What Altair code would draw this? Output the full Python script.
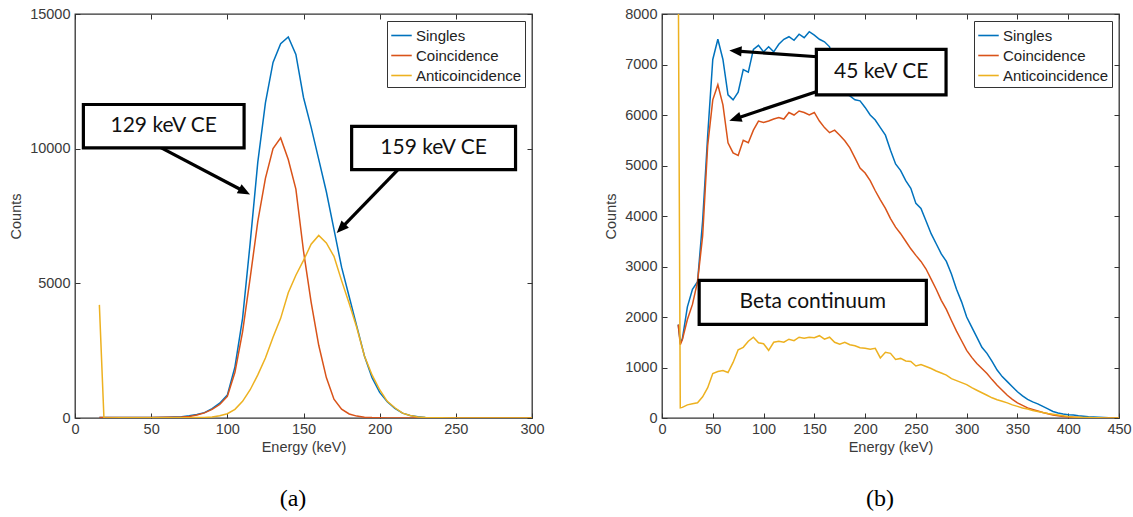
import math
import altair as alt
import pandas as pd

SERIES = ["Singles", "Coincidence", "Anticoincidence"]
COLORS = ["#0072BD", "#D95319", "#EDB120"]

# ---------------- panel (a) data ----------------
energy_a = [16, 19, 30, 40, 50, 60, 70, 75, 80, 85, 90, 95, 100, 105, 110, 115, 120, 125,
            130, 135, 140, 145, 150, 155, 160, 165, 170, 175, 180, 185, 190, 195, 200,
            205, 210, 215, 220, 225, 230, 240, 250, 260, 280, 300]
singles_a = [20, 20, 20, 20, 20, 30, 50, 80, 130, 200, 350, 550, 850, 1900, 3700, 6500, 9500, 11700,
             13200, 13900, 14150, 13500, 11900, 10800, 9600, 8400, 7000, 5600, 4500, 3400, 2300, 1500, 950,
             600, 360, 180, 90, 45, 20, 8, 4, 2, 0, 0]
coinc_a = [20, 20, 20, 20, 20, 25, 40, 60, 110, 190, 320, 500, 800, 1700, 3200, 5200, 7300, 8900,
           10000, 10400, 9600, 8500, 6200, 4300, 2700, 1500, 700, 330, 150, 70, 30, 15, 8,
           4, 2, 0, 0, 0, 0, 0, 0, 0, 0, 0]
anti_a = [4200, 0, 10, 10, 10, 10, 10, 10, 15, 20, 40, 80, 160, 320, 620, 1050, 1600, 2230,
          3000, 3700, 4650, 5300, 5850, 6450, 6780, 6500, 6000, 5100, 4250, 3350, 2300, 1600, 1050,
          620, 380, 180, 90, 40, 15, 5, 2, 0, 0, 0]

# ---------------- panel (b) data ----------------
energy_b = [16, 18, 20, 25, 30, 35, 40, 45, 50, 55, 60, 65, 70, 75, 80, 85, 90, 95, 100,
            105, 110, 115, 120, 125, 130, 135, 140, 145, 150, 155, 160, 165, 170, 175, 180,
            185, 190, 195, 200, 205, 210, 215, 220, 225, 230, 235, 240, 245, 250, 255, 260,
            265, 270, 275, 280, 285, 290, 295, 300, 305, 310, 315, 320, 325, 330, 335, 340,
            345, 350, 355, 360, 365, 370, 375, 380, 385, 390, 395, 400, 405, 410, 415, 420,
            425, 430, 435, 440, 445, 450]
singles_b = [1850, 1500, 1560, 2200, 2550, 2700, 3900, 5600, 7100, 7500, 7100, 6400, 6300, 6450, 6900, 6850, 7300, 7380, 7250,
             7350, 7250, 7400, 7500, 7550, 7480, 7600, 7530, 7650, 7580, 7500, 7450, 7350, 7000, 6700, 6420,
             6380, 6300, 6280, 6150, 6000, 5900, 5750, 5600, 5300, 5030, 4900, 4700, 4550, 4250, 4150, 3900,
             3650, 3450, 3250, 3100, 2850, 2550, 2300, 2000, 1800, 1600, 1400, 1280, 1120, 950, 820, 720,
             620, 520, 440, 370, 320, 280, 230, 180, 130, 100, 80, 65, 60, 45, 35, 25,
             20, 15, 10, 5, 3, 0]
coinc_b = [1850, 1450, 1550, 1950, 2250, 2700, 3600, 5400, 6300, 6600, 6200, 5450, 5250, 5200, 5500, 5450, 5700, 5880, 5850,
           5880, 5920, 5950, 5920, 6050, 6000, 6080, 6050, 6000, 6050, 5880, 5750, 5650, 5700, 5600, 5490,
           5350, 5150, 4950, 4850, 4700, 4500, 4320, 4150, 3950, 3780, 3650, 3500, 3350, 3220, 3100, 2950,
           2750, 2550, 2330, 2150, 1930, 1720, 1530, 1340, 1200, 1080, 980, 880, 760, 650, 550, 450,
           370, 300, 250, 200, 170, 140, 110, 85, 60, 45, 30, 20, 15, 10, 6, 4,
           2, 1, 0, 0, 0, 0]
anti_b = [9000, 200, 210, 260, 280, 300, 420, 600, 880, 920, 940, 900, 1100, 1350, 1400, 1520, 1600, 1490, 1470,
          1340, 1500, 1520, 1500, 1560, 1530, 1600, 1580, 1600, 1590, 1630, 1560, 1600, 1500, 1460, 1500,
          1450, 1430, 1390, 1380, 1360, 1380, 1190, 1300, 1280, 1160, 1180, 1130, 1120, 1030, 1060, 1020,
          980, 930, 890, 850, 780, 740, 700, 660, 600, 550, 500, 450, 400, 360, 330, 300,
          260, 230, 200, 180, 150, 130, 110, 90, 75, 60, 45, 30, 20, 15, 10, 8,
          5, 3, 2, 1, 0, 0]

# ---------------- annotations (data units) ----------------
boxes_a = {"label": ["129 keV CE", "159 keV CE"],
           "x1": [5.5, 181.6], "x2": [111.0, 289.2],
           "y1": [10030, 9220], "y2": [11640, 10830]}
arrows_a = {"x0": [52.6, 213.3], "y0": [10150, 9300],
            "x1": [114.9, 171.8], "y1": [8300, 6870]}
boxes_b = {"label": ["45 keV CE", "Beta continuum"],
           "x1": [152.0, 36.6], "x2": [279.7, 260.3],
           "y1": [6400, 1853], "y2": [7300, 2726]}
arrows_b = {"x0": [160.0, 160.0], "y0": [7143, 6516],
            "x1": [66.3, 66.3], "y1": [7276, 5887]}

PW, PH = 457, 404
FONT = "Liberation Sans"
ANN_FONT = "Lato"
HEAD_PATH = "M0,0 L-0.42,1 L0.42,1 Z"


def long_table(energy, cols):
    rows = []
    for name, vals in zip(SERIES, cols):
        assert len(vals) == len(energy), name
        for e, v in zip(energy, vals):
            rows.append({"energy": e, "counts": v, "series": name})
    return pd.DataFrame(rows)


def arrow_table(arr, xmax, ymax):
    kx, ky = PW / xmax, PH / ymax
    rows = []
    for x0, y0, x1, y1 in zip(arr["x0"], arr["y0"], arr["x1"], arr["y1"]):
        dx = (x1 - x0) * kx
        dy = -(y1 - y0) * ky
        length = math.hypot(dx, dy)
        ang = math.degrees(math.atan2(dx, -dy)) % 360
        f = 8.0 / length
        rows.append({"x0": x0, "y0": y0, "xe": x1 - (x1 - x0) * f, "ye": y1 - (y1 - y0) * f,
                     "x1": x1, "y1": y1, "angle": ang})
    return pd.DataFrame(rows)


def panel(df, xmax, ymax, xstep, ystep, boxes, arrows, caption, cap_x):
    xs = alt.Scale(domain=[0, xmax], nice=False, zero=False)
    ys = alt.Scale(domain=[0, ymax], nice=False, zero=False)
    xticks = list(range(0, xmax + 1, xstep))
    yticks = list(range(0, ymax + 1, ystep))
    tick_style = dict(tickColor="#333", tickSize=5, offset=-5, domain=False, grid=False, tickWidth=1)
    text_style = dict(labelFont=FONT, labelFontSize=14.5, labelColor="#3a3a3a",
                      titleFont=FONT, titleFontSize=14.5, titleFontWeight="normal", titleColor="#3a3a3a")
    x_main = alt.Axis(values=xticks, format="d", title="Energy (keV)", orient="bottom",
                      labelPadding=4, titlePadding=5, labelFlush=False, **tick_style, **text_style)
    y_main = alt.Axis(values=yticks, format="d", title="Counts", orient="left",
                      labelPadding=5, titlePadding=6, **tick_style, **text_style)
    x_top = alt.Axis(values=xticks, orient="top", labels=False, title=None, **tick_style)
    y_right = alt.Axis(values=yticks, orient="right", labels=False, title=None, **tick_style)

    color = alt.Color("series:N",
                      scale=alt.Scale(domain=SERIES, range=COLORS),
                      legend=alt.Legend(title=None, orient="top-right", offset=7,
                                        strokeColor="#333", fillColor="white", padding=3,
                                        symbolType="stroke", symbolSize=420, symbolStrokeWidth=1.6,
                                        labelFont=FONT, labelFontSize=15, labelColor="#222",
                                        rowPadding=0, labelOffset=3, labelLimit=300))

    layers = []
    for i, name in enumerate(SERIES):
        if i == 0:
            xa, ya = x_main, y_main
        elif i == 1:
            xa, ya = x_top, y_right
        else:
            xa, ya = None, None
        layers.append(
            alt.Chart(df).transform_filter(alt.datum.series == name)
            .mark_line(strokeWidth=1.5, clip=True)
            .encode(x=alt.X("energy:Q", scale=xs, axis=xa),
                    y=alt.Y("counts:Q", scale=ys, axis=ya),
                    color=color, order="energy:Q")
        )

    arr = arrow_table(arrows, xmax, ymax)
    layers.append(
        alt.Chart(arr).mark_rule(color="black", strokeWidth=3.2)
        .encode(x=alt.X("x0:Q", scale=xs, axis=None), y=alt.Y("y0:Q", scale=ys, axis=None),
                x2="xe:Q", y2="ye:Q")
    )
    layers.append(
        alt.Chart(arr).mark_point(shape=HEAD_PATH, filled=True, color="black", opacity=1,
                                  size=600, strokeWidth=0)
        .encode(x=alt.X("x1:Q", scale=xs, axis=None), y=alt.Y("y1:Q", scale=ys, axis=None),
                angle=alt.Angle("angle:Q", scale=None))
    )
    bdf = pd.DataFrame(boxes)
    bdf["xc"] = (bdf["x1"] + bdf["x2"]) / 2
    bdf["yc"] = (bdf["y1"] + bdf["y2"]) / 2
    layers.append(
        alt.Chart(bdf).mark_rect(fill="white", stroke="black", strokeWidth=3.2)
        .encode(x=alt.X("x1:Q", scale=xs, axis=None), x2="x2:Q",
                y=alt.Y("y1:Q", scale=ys, axis=None), y2="y2:Q")
    )
    layers.append(
        alt.Chart(bdf).mark_text(font=ANN_FONT, fontSize=21, color="#111", baseline="middle")
        .encode(x=alt.X("xc:Q", scale=xs, axis=None), y=alt.Y("yc:Q", scale=ys, axis=None),
                text="label:N")
    )
    layers.append(
        alt.Chart(pd.DataFrame({"t": [caption]}))
        .mark_text(font="Liberation Serif", fontSize=24, color="black", baseline="middle")
        .encode(text="t:N", x=alt.value(cap_x), y=alt.value(485))
    )
    return alt.layer(*layers).resolve_axis(x="independent", y="independent").properties(
        width=PW, height=PH)


df_a = long_table(energy_a, [singles_a, coinc_a, anti_a])
df_b = long_table(energy_b, [singles_b, coinc_b, anti_b])

left = panel(df_a, 300, 15000, 50, 5000, boxes_a, arrows_a, "(a)", 218)
right = panel(df_b, 450, 8000, 50, 1000, boxes_b, arrows_b, "(b)", 218)

chart = (
    alt.hconcat(left, right, spacing=58)
    .resolve_scale(color="independent")
    .properties(padding={"left": 8, "top": 5, "right": 0, "bottom": 0}, background="white")
    .configure_view(stroke="#333", strokeWidth=1.3)
)

chart.save("out.html", embed_options={"renderer": "svg", "actions": False})
